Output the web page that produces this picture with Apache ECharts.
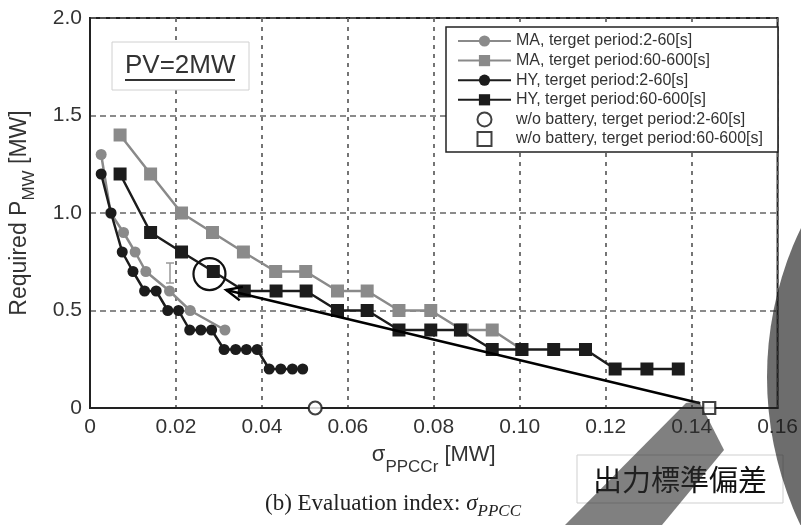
<!DOCTYPE html>
<html>
<head>
<meta charset="utf-8">
<script src="https://cdn.jsdelivr.net/npm/echarts@6/dist/echarts.min.js"></script>
<style>
  html, body { margin: 0; padding: 0; background: #fff; }
  #main { width: 801px; height: 525px; }
</style>
</head>
<body>
<div id="main"></div>
<script>
// series names, as written in the legend
const seriesNames = [
  'MA, terget period:2-60[s]',
  'MA, terget period:60-600[s]',
  'HY, terget period:2-60[s]',
  'HY, terget period:60-600[s]',
  'w/o battery, terget period:2-60[s]',
  'w/o battery, terget period:60-600[s]'
]

// MA, 2-60 s
const maShortX = [0.0026, 0.0048, 0.0078, 0.0105, 0.0130, 0.0185, 0.0233, 0.0314]
const maShortY = [1.3, 1.0, 0.9, 0.8, 0.7, 0.6, 0.5, 0.4]
// MA, 60-600 s
const maLongX = [0.0070, 0.0141, 0.0213, 0.0285, 0.0357, 0.0432, 0.0502, 0.0576, 0.0645, 0.0719, 0.0793, 0.0866, 0.0936, 0.1005]
const maLongY = [1.4, 1.2, 1.0, 0.9, 0.8, 0.7, 0.7, 0.6, 0.6, 0.5, 0.5, 0.4, 0.4, 0.3]
// HY, 2-60 s
const hyShortX = [0.0026, 0.0049, 0.0075, 0.0100, 0.0127, 0.0154, 0.0181, 0.0206, 0.0232, 0.0258, 0.0283, 0.0312, 0.0339, 0.0364, 0.0389, 0.0417, 0.0444, 0.0471, 0.0495]
const hyShortY = [1.2, 1.0, 0.8, 0.7, 0.6, 0.6, 0.5, 0.5, 0.4, 0.4, 0.4, 0.3, 0.3, 0.3, 0.3, 0.2, 0.2, 0.2, 0.2]
// HY, 60-600 s
const hyLongX = [0.0070, 0.0141, 0.0213, 0.0287, 0.0359, 0.0433, 0.0503, 0.0576, 0.0645, 0.0719, 0.0793, 0.0862, 0.0936, 0.1005, 0.1079, 0.1153, 0.1222, 0.1296, 0.1369]
const hyLongY = [1.2, 0.9, 0.8, 0.7, 0.6, 0.6, 0.6, 0.5, 0.5, 0.4, 0.4, 0.4, 0.3, 0.3, 0.3, 0.3, 0.2, 0.2, 0.2]
// without battery
const noBattShort = [0.0524, 0]
const noBattLong = [0.1441, 0]

// annotation anchors (data coords)
const arrowFrom = [0.1420, 0.024]
const arrowTo = [0.0317, 0.605]
const circleAt = [0.0278, 0.687]

const GRAY = '#8a8a8a'
const BLACK = '#1c1c1c'
const FONT = '"Liberation Sans", Arial, sans-serif'
const SQUARE = 'path://M0,0L10,0L10,10L0,10Z'

const toPts = (xs, ys) => xs.map((x, i) => [x, ys[i]])

const chart = echarts.init(document.getElementById('main'))

const lineSeries = (name, data, symbol, size, color, z) => ({
  name: name,
  type: 'line',
  data: data,
  symbol: symbol,
  symbolSize: size,
  itemStyle: { color: color },
  lineStyle: { color: color, width: 2.5 },
  z: z
})

const openSeries = (name, pt, symbol, size) => ({
  name: name,
  type: 'scatter',
  data: [pt],
  symbol: symbol,
  symbolSize: size,
  itemStyle: { color: '#fff', borderColor: '#111', borderWidth: 2.2 },
  z: 6,
  clip: false
})

const option = {
  animation: false,
  grid: {
    left: 90, right: 22, top: 18, bottom: 117,
    show: true, borderColor: '#222', borderWidth: 2
  },
  legend: {
    orient: 'vertical',
    left: 446, top: 27,
    padding: [6, 15, 5, 11],
    itemWidth: 53, itemHeight: 14, itemGap: 3.6,
    backgroundColor: '#fff',
    borderColor: '#222', borderWidth: 1.5,
    textStyle: { fontFamily: FONT, fontSize: 16, color: '#333' },
    data: [
      seriesNames[0], seriesNames[1], seriesNames[2], seriesNames[3],
      { name: seriesNames[4], icon: 'circle' },
      { name: seriesNames[5], icon: SQUARE }
    ]
  },
  xAxis: {
    type: 'value', min: 0, max: 0.16, interval: 0.02,
    axisLine: { show: true, lineStyle: { color: '#222', width: 2 } },
    axisTick: { show: false },
    splitLine: { show: true, lineStyle: { type: [4, 5], color: '#666', width: 1.8 } },
    axisLabel: {
      fontFamily: FONT, fontSize: 21, color: '#333', margin: 9,
      formatter: v => v === 0 ? '0' : v.toFixed(2)
    },
    name: '{g|σ}{s|PPCCr}{a| [MW]}',
    nameLocation: 'middle',
    nameGap: 36,
    nameTextStyle: {
      rich: {
        a: { fontFamily: FONT, fontSize: 22, color: '#333', lineHeight: 32, verticalAlign: 'top' },
        g: { fontFamily: FONT, fontSize: 22, color: '#333', lineHeight: 32, verticalAlign: 'top' },
        s: { fontFamily: FONT, fontSize: 17, color: '#333', lineHeight: 20, verticalAlign: 'bottom' }
      }
    }
  },
  yAxis: {
    type: 'value', min: 0, max: 2, interval: 0.5,
    axisLine: { show: true, lineStyle: { color: '#222', width: 2 } },
    axisTick: { show: false },
    splitLine: { show: true, lineStyle: { type: [6, 4], color: '#666', width: 1.5 } },
    axisLabel: {
      fontFamily: FONT, fontSize: 21, color: '#333', margin: 8,
      formatter: v => v === 0 ? '0' : v.toFixed(1)
    },
    name: '{a|Required P}{s|MW}{a| [MW]}',
    nameLocation: 'middle',
    nameRotate: 90,
    nameGap: 52,
    nameTextStyle: {
      rich: {
        a: { fontFamily: FONT, fontSize: 23, color: '#333', lineHeight: 30, verticalAlign: 'top' },
        s: { fontFamily: FONT, fontSize: 17, color: '#333', lineHeight: 20, verticalAlign: 'bottom' }
      }
    }
  },
  series: [
    lineSeries(seriesNames[0], toPts(maShortX, maShortY), 'circle', 11, GRAY, 2),
    lineSeries(seriesNames[1], toPts(maLongX, maLongY), 'rect', 13, GRAY, 2),
    lineSeries(seriesNames[2], toPts(hyShortX, hyShortY), 'circle', 11, BLACK, 3),
    lineSeries(seriesNames[3], toPts(hyLongX, hyLongY), 'rect', 13, BLACK, 3),
    openSeries(seriesNames[4], noBattShort, 'circle', 13),
    openSeries(seriesNames[5], noBattLong, 'rect', 12)
  ]
}

chart.setOption(option)

// annotations placed from data coords
const p0 = chart.convertToPixel({ gridIndex: 0 }, arrowFrom)
const p1 = chart.convertToPixel({ gridIndex: 0 }, arrowTo)
const pc = chart.convertToPixel({ gridIndex: 0 }, circleAt)
const ang = Math.atan2(p0[1] - p1[1], p0[0] - p1[0])
const L = 17
const armA = [p1[0] + L * Math.cos(ang + 0.42), p1[1] + L * Math.sin(ang + 0.42)]
const armB = [p1[0] + L * Math.cos(ang - 0.42), p1[1] + L * Math.sin(ang - 0.42)]

chart.setOption({
  graphic: [
    // PV box
    { type: 'rect', z: 20, shape: { x: 112, y: 42, width: 137, height: 48 },
      style: { fill: '#fff', stroke: '#d0d0d0', lineWidth: 1 } },
    { type: 'text', z: 21, x: 125, y: 66,
      style: { text: 'PV=2MW', fontFamily: FONT, fontSize: 26, fill: '#333', verticalAlign: 'middle' } },
    { type: 'line', z: 21, shape: { x1: 125, y1: 80, x2: 235, y2: 80 },
      style: { stroke: '#333', lineWidth: 2.2 } },
    // I-beam cursor
    { type: 'polyline', z: 21, shape: { points: [[166, 263], [174, 263]] }, style: { stroke: '#999', lineWidth: 1.5 } },
    { type: 'polyline', z: 21, shape: { points: [[170, 263], [170, 283]] }, style: { stroke: '#999', lineWidth: 1.5 } },
    { type: 'polyline', z: 21, shape: { points: [[166, 283], [174, 283]] }, style: { stroke: '#999', lineWidth: 1.5 } },
    // arrow and circle
    { type: 'line', z: 22, shape: { x1: p0[0], y1: p0[1], x2: p1[0], y2: p1[1] },
      style: { stroke: '#000', lineWidth: 2.5 } },
    { type: 'polyline', z: 22, shape: { points: [armA, p1, armB] },
      style: { stroke: '#000', lineWidth: 2.5, fill: null } },
    { type: 'circle', z: 22, shape: { cx: pc[0], cy: pc[1], r: 16 },
      style: { fill: null, stroke: '#111', lineWidth: 2.2 } },
    // caption
    { type: 'text', z: 21, x: 265, y: 506,
      style: {
        text: '{a|(b) Evaluation index: }{g|σ}{s|PPCC}',
        verticalAlign: 'middle',
        rich: {
          a: { fontFamily: '"Liberation Serif", serif', fontSize: 23, fill: '#222', lineHeight: 28, verticalAlign: 'top' },
          g: { fontFamily: '"Liberation Serif", serif', fontSize: 23, fontStyle: 'italic', fill: '#222', lineHeight: 28, verticalAlign: 'top' },
          s: { fontFamily: '"Liberation Serif", serif', fontSize: 17, fontStyle: 'italic', fill: '#222', lineHeight: 20, verticalAlign: 'bottom' }
        }
      } },
    // japanese label box
    { type: 'rect', z: 30, shape: { x: 577, y: 455, width: 206, height: 48 },
      style: { fill: '#fff', stroke: '#cfcfcf', lineWidth: 1 } },
    { type: 'text', z: 31, x: 680, y: 480,
      style: { text: '出力標準偏差', fontFamily: '"Noto Sans CJK JP", sans-serif', fontSize: 29,
        fill: '#111', align: 'center', verticalAlign: 'middle' } },
    // overlay stripe and disk
    { type: 'polygon', z: 40, shape: { points: [[686, 403], [699, 401], [724, 450], [662, 525], [565, 525]] },
      style: { fill: 'rgba(43,43,43,0.6)' } },
    { type: 'circle', z: 40, shape: { cx: 1111, cy: 377, r: 344 },
      style: { fill: 'rgba(30,30,30,0.65)' } }
  ]
})
</script>
</body>
</html>
